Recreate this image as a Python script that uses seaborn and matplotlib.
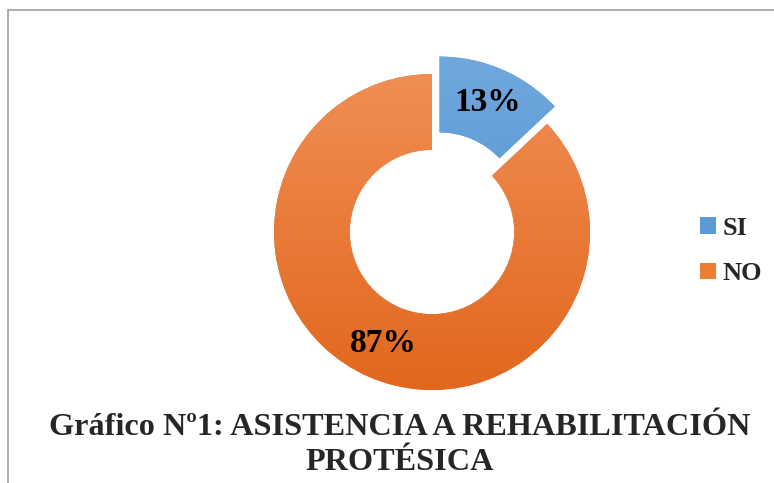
import numpy as np
import matplotlib
matplotlib.use("Agg")
import matplotlib.pyplot as plt
import seaborn as sns
from matplotlib.patches import Rectangle, Patch

# data
labels = ["SI", "NO"]
values = [13, 87]
colors = ["#5B9BD5", "#ED7D31"]
grad_top = ["#72AADF", "#F2925A"]
grad_bottom = ["#4485C6", "#E0651A"]
title = "Gráfico Nº1: ASISTENCIA A REHABILITACIÓN\nPROTÉSICA"

sns.set_theme(style="white")
plt.rcParams["font.family"] = ["Liberation Serif", "DejaVu Serif"]

fig = plt.figure(figsize=(7.74, 4.83), dpi=100)
fig.patch.set_facecolor("white")

# pie axes: center ~ (432, 232) px, radius ~158 px
size_px = 2.6 * 158
ax = fig.add_axes([(432 - size_px / 2) / 774, (483 - 232 - size_px / 2) / 483,
                   size_px / 774, size_px / 483])

wedges, texts, autotexts = ax.pie(
    values, colors=colors, startangle=90, counterclock=False,
    explode=[0.12, 0], radius=1,
    wedgeprops=dict(width=0.48, edgecolor="none"),
    autopct="%1.0f%%", pctdistance=0.77,
    textprops=dict(fontsize=24, fontweight="bold", color="black"))

# vertical gradient fill like the original
for w, top, bot in zip(wedges, grad_top, grad_bottom):
    cmap = matplotlib.colors.LinearSegmentedColormap.from_list("g", [bot, top])
    grad = np.linspace(0, 1, 256).reshape(-1, 1)
    im = ax.imshow(grad, cmap=cmap, origin="lower", aspect="auto",
                   extent=[-1.3, 1.3, -1.1, 1.2], zorder=w.get_zorder() + 0.1)
    im.set_clip_path(w)
for t in autotexts:
    t.set_zorder(5)

ax.set_xlim(-1.3, 1.3)
ax.set_ylim(-1.3, 1.3)
ax.set_aspect("equal")
ax.axis("off")

handles = [Patch(facecolor=c, edgecolor="none") for c in colors]
fig.legend(handles, labels, loc="center left", bbox_to_anchor=(676 / 774, 1 - 251 / 483),
           frameon=False, prop=dict(size=19, weight="bold"),
           handlelength=0.6, handleheight=0.6, handletextpad=0.25, labelspacing=0.85)

fig.text(400 / 774, 1 - 445 / 483, title, ha="center", va="center",
         fontsize=23.2, fontweight="bold", linespacing=1.3, multialignment="center")

# chart border
fig.add_artist(Rectangle((8 / 774, -0.1), 1.2, 1.1 - 10 / 483, transform=fig.transFigure,
                         fill=False, edgecolor="#A0A0A0", linewidth=1.2))

fig.savefig("out.png", dpi=100)
